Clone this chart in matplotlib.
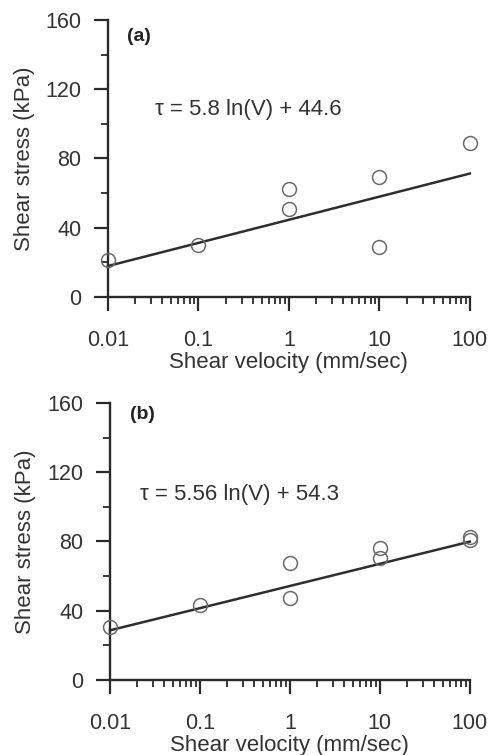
import matplotlib
matplotlib.use("Agg")
import matplotlib.pyplot as plt
from matplotlib.ticker import LogLocator, FixedLocator, NullFormatter

plt.rcParams['font.family'] = ['Liberation Sans', 'DejaVu Sans']

# Panel (a) data
vel_a = [0.01, 0.1, 1, 1, 10, 10, 100]
stress_a = [21.6, 30.3, 62.3, 50.7, 69.5, 28.9, 89.1]
fit_a_x = [0.01, 100]
fit_a_y = [17.9, 71.3]
eq_a = "τ = 5.8 ln(V) + 44.6"

# Panel (b) data
vel_b = [0.01, 0.1, 1, 1, 10, 10, 100, 100]
stress_b = [30.8, 43.4, 67.8, 47.2, 76.0, 70.3, 82.8, 81.0]
fit_b_x = [0.01, 100]
fit_b_y = [28.7, 79.9]
eq_b = "τ = 5.56 ln(V) + 54.3"

xticks = [0.01, 0.1, 1, 10, 100]
xticklabels = ["0.01", "0.1", "1", "10", "100"]
yticks = [0, 40, 80, 120, 160]
yminor = [20, 60, 100, 140]

fig = plt.figure(figsize=(4.93, 7.55), dpi=100)
ax_a = fig.add_axes([0.219, 0.6066, 0.734, 0.367])
ax_b = fig.add_axes([0.223, 0.0993, 0.730, 0.367])

dark = '#2a2a2a'
txt = '#333333'

def style(ax, vel, stress, fx, fy, eq, label, eqpos, labpos, ylab_x, xlab_y):
    ax.plot(fx, fy, color='#2e2e2e', lw=1.8, clip_on=False, zorder=2)
    ax.plot(vel, stress, linestyle='none', marker='o', markersize=10,
            markerfacecolor='none', markeredgecolor='#6a6a6a',
            markeredgewidth=1.1, clip_on=False, zorder=3)
    ax.set_xscale('log')
    ax.set_xlim(0.01, 100)
    ax.set_ylim(0, 160)
    for s in ['top', 'right']:
        ax.spines[s].set_visible(False)
    for s in ['left', 'bottom']:
        ax.spines[s].set_linewidth(1.7)
        ax.spines[s].set_color(dark)
    ax.set_xticks(xticks)
    ax.set_xticklabels(xticklabels)
    ax.xaxis.set_minor_locator(LogLocator(base=10, subs=range(2, 10)))
    ax.xaxis.set_minor_formatter(NullFormatter())
    ax.set_yticks(yticks)
    ax.yaxis.set_minor_locator(FixedLocator(yminor))
    ax.tick_params(which='major', direction='out', length=10, width=1.6,
                   color=dark, labelsize=15.5, labelcolor=txt)
    ax.tick_params(axis='y', which='major', pad=9)
    ax.tick_params(axis='x', which='major', pad=14)
    ax.tick_params(which='minor', direction='out', length=5, width=1.3, color=dark)
    ax.set_xlabel("Shear velocity (mm/sec)", fontsize=16, color=txt)
    ax.set_ylabel("Shear stress (kPa)", fontsize=16, color=txt)
    ax.xaxis.set_label_coords(0.5, xlab_y)
    ax.xaxis.label.set_va('center')
    ax.yaxis.set_label_coords(ylab_x, 0.5)
    ax.yaxis.label.set_va('center')
    ax.text(eqpos[0], eqpos[1], eq, transform=ax.transAxes, fontsize=16,
            color=txt, va='center', ha='left')
    ax.text(labpos[0], labpos[1], label, transform=ax.transAxes, fontsize=14,
            fontweight='bold', color='#222222', va='center', ha='left')

style(ax_a, vel_a, stress_a, fit_a_x, fit_a_y, eq_a, "(a)", (0.13, 0.675), (0.052, 0.94), -0.23, -0.235)
style(ax_b, vel_b, stress_b, fit_b_x, fit_b_y, eq_b, "(b)", (0.083, 0.668), (0.056, 0.958), -0.236, -0.238)

fig.savefig("out.png", dpi=100)
